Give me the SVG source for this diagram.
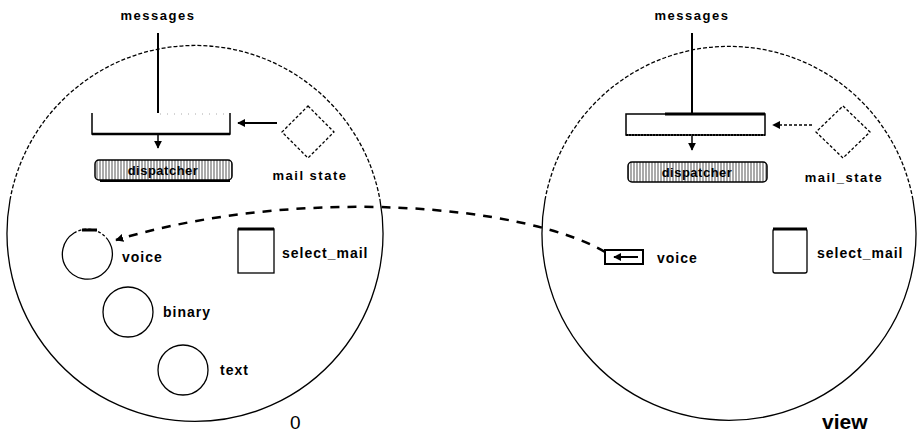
<svg xmlns="http://www.w3.org/2000/svg" width="917" height="437" viewBox="0 0 917 437">
<defs>
<pattern id="hatch" width="3" height="4" patternUnits="userSpaceOnUse">
<rect width="3" height="4" fill="#fff"/>
<line x1="1" y1="0" x2="1" y2="4" stroke="#555" stroke-width="1"/>
</pattern>
<marker id="ah" viewBox="0 0 10 10" refX="9" refY="5" markerWidth="8" markerHeight="8" orient="auto" markerUnits="userSpaceOnUse">
<path d="M0,0 L10,5 L0,10 z" fill="#000"/>
</marker>
</defs>
<style>
.t{font-family:"Liberation Sans",Arial,sans-serif;font-weight:bold;font-size:14px;fill:#000;letter-spacing:1px}
.dot{fill:none;stroke:#000;stroke-width:1.3;stroke-dasharray:4 2}
.sol{fill:none;stroke:#000;stroke-width:1.3}
.node{fill:#fff;stroke:#000;stroke-width:1.3}
.disp{fill:url(#hatch);stroke:#000;stroke-width:1.5}
</style>
<rect width="917" height="437" fill="#fff"/>

<g id="env-left">
<path class="dot" d="M10,200 A188,188 0 0 1 380,200"/>
<path class="sol" d="M380,200 A188,188 0 1 1 10,200"/>
<text class="t" x="290" y="429" style="font-size:19px;font-weight:normal;letter-spacing:0">0</text>
</g>
<g id="env-right">
<path class="dot" d="M545,200 A187,187 0 0 1 913,200"/>
<path class="sol" d="M913,200 A187,187 0 1 1 545,200"/>
<text class="t" x="822" y="429" style="font-size:21px;letter-spacing:0">view</text>
</g>

<g id="connectors">
<line x1="158" y1="33" x2="158" y2="113" stroke="#000" stroke-width="2"/>
<line x1="692" y1="33" x2="692" y2="115" stroke="#000" stroke-width="2"/>
<line x1="158" y1="135" x2="158" y2="148" stroke="#000" stroke-width="1.5" marker-end="url(#ah)"/>
<line x1="692" y1="136" x2="692" y2="150" stroke="#000" stroke-width="1.5" marker-end="url(#ah)"/>
<line x1="277" y1="123" x2="238" y2="123" stroke="#000" stroke-width="2" marker-end="url(#ah)"/>
<line x1="812" y1="125" x2="773" y2="125" stroke="#000" stroke-width="1.5" stroke-dasharray="3 2" marker-end="url(#ah)"/>
<path d="M605,252 C525,205 300,185 116,240" fill="none" stroke="#000" stroke-width="2.5" stroke-dasharray="9 8" marker-end="url(#ah)"/>
</g>

<g id="messages-left"><text class="t" x="158" y="20" text-anchor="middle" style="font-size:13px;letter-spacing:1.5px">messages</text></g>
<g id="messages-right"><text class="t" x="692" y="20" text-anchor="middle" style="font-size:13px;letter-spacing:1.5px">messages</text></g>

<g id="queue-left">
<path d="M92,113 L92,134 L230,134 L230,113" fill="none" stroke="#000" stroke-width="1.5"/>
<line x1="92" y1="134" x2="230" y2="134" stroke="#000" stroke-width="2.5"/>
<line x1="160" y1="114" x2="228" y2="114" stroke="#aaa" stroke-width="1" stroke-dasharray="1 6"/>
</g>
<g id="queue-right">
<rect x="626" y="114" width="139" height="21" fill="#fff" stroke="#000" stroke-width="1.5"/>
<line x1="665" y1="114" x2="765" y2="114" stroke="#000" stroke-width="3"/>
<line x1="626" y1="135" x2="765" y2="135" stroke="#000" stroke-width="2" stroke-dasharray="2 1"/>
</g>

<g id="dispatcher-left">
<rect class="disp" x="95" y="160" width="137" height="20" rx="4"/>
<line x1="100" y1="181" x2="230" y2="181" stroke="#000" stroke-width="2"/>
<text class="t" x="163" y="175" text-anchor="middle" style="font-size:13px;letter-spacing:0.5px">dispatcher</text>
</g>
<g id="dispatcher-right">
<rect class="disp" x="628" y="162" width="139" height="20" rx="4"/>
<text class="t" x="697" y="177" text-anchor="middle" style="font-size:13px;letter-spacing:0.5px">dispatcher</text>
</g>

<g id="mailstate-left">
<polygon points="308,106 334,132 308,158 282,132" fill="#fff" stroke="#000" stroke-width="1.3" stroke-dasharray="3 2"/>
<text class="t" x="310" y="180" text-anchor="middle" style="font-size:13px;letter-spacing:1.5px">mail state</text>
</g>
<g id="mailstate-right">
<polygon points="843,106 870,132 843,158 816,132" fill="#fff" stroke="#000" stroke-width="1.3" stroke-dasharray="3 2"/>
<text class="t" x="844" y="182" text-anchor="middle" style="font-size:13px;letter-spacing:1.5px">mail_state</text>
</g>

<g id="voice-left">
<path d="M74,233 A25,25 0 0 1 108,240" fill="none" stroke="#000" stroke-width="1.3" stroke-dasharray="3 2"/>
<path d="M108,240 A25,25 0 1 1 74,233" fill="none" stroke="#000" stroke-width="1.3"/>
<line x1="82" y1="230" x2="97" y2="230" stroke="#000" stroke-width="3"/>
<text class="t" x="122" y="262">voice</text>
</g>
<g id="binary">
<circle class="node" cx="128" cy="312" r="25"/>
<text class="t" x="163" y="317">binary</text>
</g>
<g id="text-node">
<circle class="node" cx="183" cy="370" r="25"/>
<text class="t" x="220" y="375">text</text>
</g>
<g id="select-mail-left">
<rect class="node" x="238" y="229" width="36" height="44"/>
<line x1="238" y1="229" x2="274" y2="229" stroke="#000" stroke-width="3"/>
<text class="t" x="282" y="258">select_mail</text>
</g>

<g id="voice-right">
<rect x="605" y="250" width="38" height="14" fill="#fff" stroke="#000" stroke-width="2"/>
<line x1="638" y1="257" x2="614" y2="257" stroke="#000" stroke-width="2" marker-end="url(#ah)"/>
<text class="t" x="657" y="263">voice</text>
</g>
<g id="select-mail-right">
<rect class="node" x="773" y="229" width="34" height="44" rx="2"/>
<line x1="773" y1="229" x2="807" y2="229" stroke="#000" stroke-width="3"/>
<text class="t" x="817" y="258">select_mail</text>
</g>
</svg>
